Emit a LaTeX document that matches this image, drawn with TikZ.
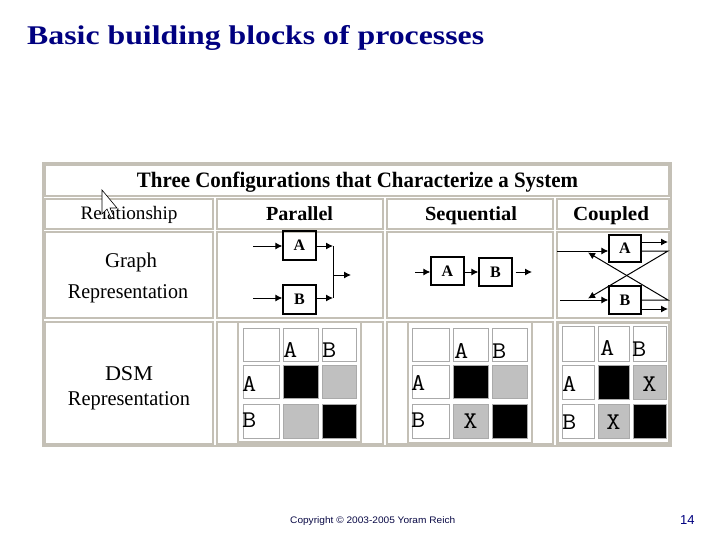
\documentclass[tikz,border=0pt]{standalone}
\usepackage{fontspec}
\setmainfont{Liberation Serif}
\newfontfamily\footfont{Liberation Sans}
\usetikzlibrary{arrows.meta}
\definecolor{navy}{RGB}{0,0,128}
\definecolor{footblue}{RGB}{10,10,70}
\definecolor{tblborder}{RGB}{196,192,182}
\definecolor{cellborder}{RGB}{170,170,170}
\definecolor{dsmgray}{RGB}{192,192,192}
\newcommand{\fitw}[2]{\resizebox{#1}{\height}{#2}}
\newcommand{\dcell}[5]{\path[#5] (#1,#2) rectangle (#3,#4);}
\newcommand{\dsmtxt}[1]{\scalebox{1.15}[1]{\ttfamily\fontsize{24}{24}\selectfont #1}}
\begin{document}
\begin{tikzpicture}[x=1pt,y=-1pt,
  lbl/.style={inner sep=0pt, anchor=base},
  gbox/.style={draw, line width=1.3pt, inner sep=0pt, font=\bfseries\fontsize{16}{16}\selectfont},
  arr/.style={line width=1pt, -{Latex[length=7pt,width=7pt]}},
  ln/.style={line width=1pt},
  tcell/.style={draw=tblborder, line width=1.5pt, fill=white},
  dframe/.style={draw=tblborder, line width=1.8pt, fill=white},
  wc/.style={draw=cellborder, line width=0.8pt, fill=white},
  bc/.style={draw=cellborder, line width=0.8pt, fill=black},
  gc/.style={draw=cellborder, line width=0.8pt, fill=dsmgray},
  dl/.style={inner sep=0pt, anchor=base west},
  dx/.style={inner sep=0pt, anchor=base},
]
\useasboundingbox[fill=white] (0,0) rectangle (720,540);

% title
\node[lbl, anchor=base west, text=navy] (title) at (27,45)
  {\fitw{457pt}{\bfseries\fontsize{27}{30}\selectfont Basic building blocks of processes}};

% table frame and cells
\draw[draw=tblborder, line width=2.2pt, fill=white] (43,163) rectangle (671,446);
\draw[tcell] (45,165) rectangle (669,196);
\foreach \a/\b in {45/213,217/383,387/553,557/669}{
  \draw[tcell] (\a,199) rectangle (\b,229);
  \draw[tcell] (\a,232) rectangle (\b,318);
  \draw[tcell] (\a,322) rectangle (\b,444);
}

% header texts
\node[lbl] (three) at (357.5,188)
  {\fitw{441pt}{\bfseries\fontsize{22}{22}\selectfont Three Configurations that Characterize a System}};
\node[lbl] (rel) at (129,220) {\fitw{97pt}{\fontsize{19}{19}\selectfont Relationship}};
\node[lbl] (par) at (299.5,221) {\fitw{67pt}{\bfseries\fontsize{20}{20}\selectfont Parallel}};
\node[lbl] (seq) at (471,221) {\fitw{92pt}{\bfseries\fontsize{20}{20}\selectfont Sequential}};
\node[lbl] (cou) at (611,221) {\fitw{76pt}{\bfseries\fontsize{20}{20}\selectfont Coupled}};
\node[lbl] (graph) at (131,267) {\fitw{52pt}{\fontsize{21}{21}\selectfont Graph}};
\node[lbl] (rep1) at (128,298) {\fitw{120pt}{\fontsize{21}{21}\selectfont Representation}};
\node[lbl] (dsm) at (129,380) {\fitw{48pt}{\fontsize{21}{21}\selectfont DSM}};
\node[lbl] (rep2) at (129,405) {\fitw{122pt}{\fontsize{21}{21}\selectfont Representation}};

% parallel graph
\node[gbox, minimum width=33pt, minimum height=29pt] (pA) at (299.5,245.5) {A};
\node[gbox, minimum width=33pt, minimum height=29pt] (pB) at (299.5,299.5) {B};
\coordinate (pAin) at (253,246);
\coordinate (pBin) at (253,298);
\coordinate (pJa) at (333,246);
\coordinate (pJb) at (333,298);
\coordinate (pJm) at (333,275);
\coordinate (pOut) at (351,275);
\draw[arr] (pAin) -- (pA.west |- pAin);
\draw[arr] (pBin) -- (pB.west |- pBin);
\draw[arr] (pA.east |- pJa) -- (pJa);
\draw[arr] (pB.east |- pJb) -- (pJb);
\draw[ln] (pJa) -- (pJb);
\draw[arr] (pJm) -- (pOut);

% sequential graph
\node[gbox, minimum width=33pt, minimum height=28pt] (sA) at (447.5,271) {A};
\node[gbox, minimum width=33pt, minimum height=28pt] (sB) at (495.5,272) {B};
\coordinate (sIn) at (415,272);
\coordinate (sOut) at (532,272);
\draw[arr] (sIn) -- (sA.west |- sIn);
\draw[arr] (sA.east |- sIn) -- (sB.west |- sIn);
\draw[arr] ([xshift=3pt]sB.east |- sOut) -- (sOut);

% coupled graph
\node[gbox, minimum width=32pt, minimum height=27pt] (cA) at (625,248.5) {A};
\node[gbox, minimum width=32pt, minimum height=28pt] (cB) at (625,300) {B};
\coordinate (cAin) at (557,251);
\coordinate (cBin) at (560,300);
\coordinate (cAo1) at (668,242);
\coordinate (cAo2) at (668,251);
\coordinate (cBo1) at (668,300);
\coordinate (cBo2) at (668,309);
\coordinate (cXa) at (588,252.5);
\coordinate (cXb) at (588,298.5);
\draw[arr] (cAin) -- (cA.west |- cAin);
\draw[arr] (cBin) -- (cB.west |- cBin);
\draw[arr] (cA.east |- cAo1) -- (cAo1);
\draw[arr] (cB.east |- cBo2) -- (cBo2);
\draw[arr] (cA.east |- cAo2) -- (cAo2) -- (cXb);
\draw[arr] (cB.east |- cBo1) -- (cBo1) -- (cXa);

% DSM parallel
\draw[dframe] (238,322) rectangle (361,442);
\dcell{243}{328}{279}{361}{wc}\dcell{283}{328}{318}{361}{wc}\dcell{322}{328}{356}{361}{wc}
\dcell{243}{365}{279}{398}{wc}\dcell{283}{365}{318}{398}{bc}\dcell{322}{365}{356}{398}{gc}
\dcell{243}{404}{279}{438}{wc}\dcell{283}{404}{318}{438}{gc}\dcell{322}{404}{356}{438}{bc}
\node[dl] (pdA1) at (283,357) {\dsmtxt{A}};
\node[dl] (pdB1) at (322,357) {\dsmtxt{B}};
\node[dl] (pdA2) at (242,391) {\dsmtxt{A}};
\node[dl] (pdB3) at (242,427) {\dsmtxt{B}};

% DSM sequential
\draw[dframe] (408,322) rectangle (532,443);
\dcell{412}{328}{449}{361}{wc}\dcell{453}{328}{488}{361}{wc}\dcell{492}{328}{527}{361}{wc}
\dcell{412}{365}{449}{398}{wc}\dcell{453}{365}{488}{398}{bc}\dcell{492}{365}{527}{398}{gc}
\dcell{412}{404}{449}{438}{wc}\dcell{453}{404}{488}{438}{gc}\dcell{492}{404}{527}{438}{bc}
\node[dl] (sdA1) at (454,358) {\dsmtxt{A}};
\node[dl] (sdB1) at (492,358) {\dsmtxt{B}};
\node[dl] (sdA2) at (411,390) {\dsmtxt{A}};
\node[dl] (sdB3) at (411,427) {\dsmtxt{B}};
\node[dx] (sdX) at (470.5,428) {\dsmtxt{X}};

% DSM coupled
\draw[dframe] (558,323) rectangle (669,443);
\dcell{562}{326}{594}{361}{wc}\dcell{598}{326}{629}{361}{wc}\dcell{633}{326}{666}{361}{wc}
\dcell{562}{365}{594}{399}{wc}\dcell{598}{365}{629}{399}{bc}\dcell{633}{365}{666}{399}{gc}
\dcell{562}{404}{594}{438}{wc}\dcell{598}{404}{629}{438}{gc}\dcell{633}{404}{666}{438}{bc}
\node[dl] (cdA1) at (600,355) {\dsmtxt{A}};
\node[dl] (cdB1) at (632,356) {\dsmtxt{B}};
\node[dl] (cdA2) at (562,391) {\dsmtxt{A}};
\node[dl] (cdB3) at (562,429) {\dsmtxt{B}};
\node[dx] (cdX1) at (649.5,391) {\dsmtxt{X}};
\node[dx] (cdX2) at (613.5,429) {\dsmtxt{X}};

% mouse cursor
\draw[fill=white, line width=0.6pt, line join=miter] (102,190) -- (102,214) -- (107,209) -- (111,218) -- (114,217) -- (110,208) -- (117,208) -- cycle;

% footer
\node[inner sep=0pt, anchor=base west, text=footblue] (copy) at (290,523)
  {\fitw{165pt}{\footfont\fontsize{9.5}{10}\selectfont Copyright © 2003-2005 Yoram Reich}};
\node[inner sep=0pt, anchor=base west, text=navy] (page) at (680,524)
  {\footfont\fontsize{13}{13}\selectfont 14};
\end{tikzpicture}
\end{document}
